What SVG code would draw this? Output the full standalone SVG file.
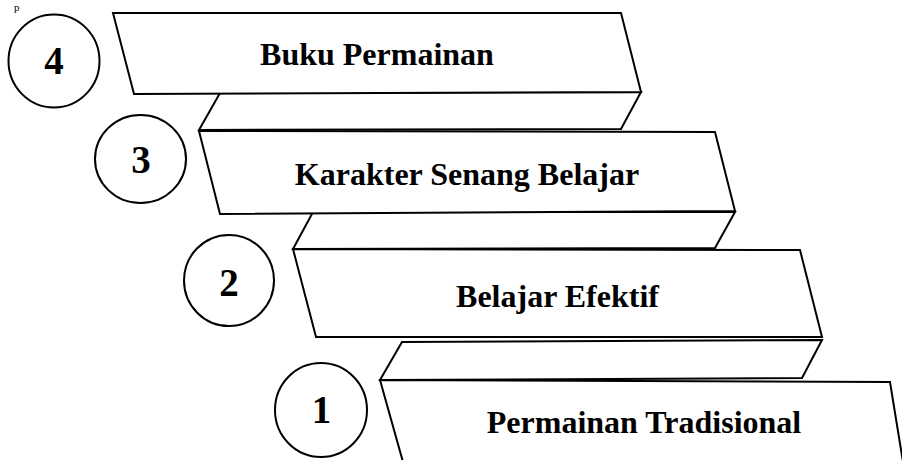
<svg xmlns="http://www.w3.org/2000/svg" width="902" height="460" viewBox="0 0 902 460">
  <style>
    .box { fill: #ffffff; stroke: #000000; stroke-width: 2; stroke-linejoin: miter; }
    .step { fill: #ffffff; stroke: #000000; stroke-width: 2; stroke-linejoin: miter; }
    .ring { fill: #ffffff; stroke: #000000; stroke-width: 2; }
    .label { font-family: "Liberation Serif", "Times New Roman", serif; font-weight: bold; font-size: 32px; fill: #000000; text-anchor: middle; }
    .num { font-family: "Liberation Serif", "Times New Roman", serif; font-weight: bold; font-size: 39px; fill: #000000; text-anchor: middle; }
    .stray { font-family: "Liberation Serif", "Times New Roman", serif; font-size: 11px; fill: #000000; }
  </style>
  <rect x="0" y="0" width="902" height="460" fill="#ffffff"/>

  <text class="stray" x="14" y="11">p</text>

  <!-- stair steps linking one level to the next -->
  <g id="connectors">
    <polygon class="step" points="220,93 641,92 621,129 199,130"/>
    <polygon class="step" points="313,212 735,212 715,248 293,249"/>
    <polygon class="step" points="402,342 822,340 802,378 380,380"/>
  </g>

  <g id="level-4">
    <polygon class="box" points="113,13 621,13 641,92 134,94"/>
    <text class="label" x="377" y="65">Buku Permainan</text>
    <ellipse class="ring" cx="54" cy="61" rx="45.5" ry="46.5"/>
    <text class="num" x="54" y="74">4</text>
  </g>

  <g id="level-3">
    <polygon class="box" points="199,131 715,132 735,211 220,214"/>
    <text class="label" x="467" y="185">Karakter Senang Belajar</text>
    <ellipse class="ring" cx="140.5" cy="159" rx="45.5" ry="44"/>
    <text class="num" x="141" y="173">3</text>
  </g>

  <g id="level-2">
    <polygon class="box" points="293,249 800,250 822,337 316,337"/>
    <text class="label" x="557.5" y="307">Belajar Efektif</text>
    <ellipse class="ring" cx="229" cy="280.5" rx="45" ry="45.5"/>
    <text class="num" x="229" y="296">2</text>
  </g>

  <g id="level-1">
    <polygon class="box" points="380,380 890,382 903,462 403,462"/>
    <text class="label" x="644" y="433">Permainan Tradisional</text>
    <ellipse class="ring" cx="321" cy="410" rx="46" ry="47"/>
    <text class="num" x="321.5" y="423">1</text>
  </g>
</svg>
